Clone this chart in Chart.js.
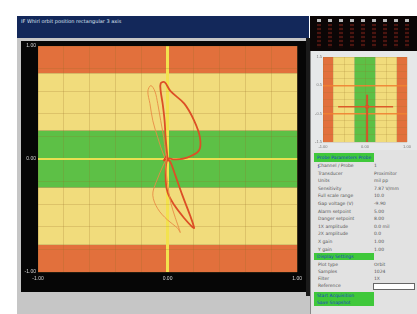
<!DOCTYPE html>
<html>
<head>
<meta charset="utf-8">
<script src="https://cdn.jsdelivr.net/npm/chart.js@4.4.1/dist/chart.umd.min.js"></script>
<style>
  body { margin: 0; width: 417px; height: 314px; background: #fff; position: relative; overflow: hidden; font-family: "DejaVu Sans", sans-serif; }
  .abs { position: absolute; }
  #title { left: 17px; top: 16px; width: 292px; height: 22px; background: #13285a; color: #dfe5f2; font-size: 5px; line-height: 10px; padding-left: 4px; box-sizing: border-box; }
  #mainPanel { left: 17px; top: 38px; width: 293px; height: 276px; background: #c6c6c6; }
  #mainBox { left: 21px; top: 41px; width: 285px; height: 251px; background: #060606; }
  #sep { left: 306px; top: 38px; width: 4px; height: 258px; background: #1a1a1a; }
  #leds { left: 310px; top: 16px; width: 107px; height: 35px; background: #0b0606; }
  #smallPanel { left: 310px; top: 51px; width: 107px; height: 99px; background: #e6e8e9; border-left: 1px solid #888; box-sizing: border-box; }
  #textPanel { left: 310px; top: 150px; width: 107px; height: 164px; background: #e2e2e2; border-left: 1px solid #888; box-sizing: border-box; }
  .row { position: absolute; font-size: 4.5px; color: #555; white-space: nowrap; }
  .bar { position: absolute; left: 3px; width: 60px; background: #3fc83a; color: #1d3fc4; font-size: 4.5px; padding-left: 3px; box-sizing: border-box; }
  .led { position: absolute; width: 4px; }
</style>
</head>
<body>
<div id="title" class="abs">IF Whirl orbit position rectangular 3 axis</div>
<div id="mainPanel" class="abs"></div>
<div id="mainBox" class="abs"><canvas id="orbitChart" width="285" height="251"></canvas></div>
<div id="sep" class="abs"></div>
<div id="leds" class="abs"></div>
<div id="smallPanel" class="abs"><canvas id="gapChart" width="105" height="99"></canvas></div>
<div id="textPanel" class="abs"></div>
<script>
// --- chart values ---
const orbitLabelTicks = [-1, 0, 1];
const zoneLimits = [-1, -0.76, -0.25, 0.25, 0.76, 1];

// thick red orbit (upper loop, then lower loop)
const orbitAX = [0, -0.015, -0.023, -0.038, -0.053, -0.053, -0.023, 0.023, 0.129, 0.205, 0.25, 0.242, 0.152, 0.053, 0,
                 -0.015, 0, 0.053, 0.129, 0.19, 0.205, 0.174, 0.114, 0.06, 0.023, 0];
const orbitAY = [0, 0.19, 0.34, 0.49, 0.60, 0.67, 0.68, 0.60, 0.49, 0.34, 0.19, 0.075, 0.013, -0.004, 0,
                 -0.145, -0.295, -0.41, -0.524, -0.6, -0.61, -0.5, -0.32, -0.145, -0.03, 0];

// thin light orbit
const orbitBX = [-0.008, -0.023, -0.076, -0.114, -0.136, -0.152, -0.129, -0.098, -0.076, -0.053, -0.03, -0.015, -0.008,
                 -0.023, -0.09, -0.114, -0.076, 0, 0.076, 0.098, 0.06, 0.023, 0, -0.015, -0.008];
const orbitBY = [0, 0.013, 0.19, 0.34, 0.49, 0.60, 0.65, 0.60, 0.49, 0.34, 0.19, 0.05, 0,
                 -0.03, -0.21, -0.32, -0.44, -0.54, -0.61, -0.65, -0.52, -0.38, -0.21, -0.06, 0];

const centerX = [-0.01];
const centerY = [0];

// small gap chart
const gapLabelTicksX = [-1, 0, 1];
const gapLabelTicksY = [-1.5, -0.5, 0.5, 1.5];
const gapCrossX = [-0.64, 0.67];
const gapCrossY = [-0.26, -0.26];
const gapStemX = [0.05, 0.05];
const gapStemY = [-1.5, 0.17];

// side panel text
const panelRows = [
  ['Channel / Probe', '1'], ['Transducer', 'Proximitor'], ['Units', 'mil pp'], ['Sensitivity', '7.87 V/mm'],
  ['Full scale range', '10.0'], ['Gap voltage (V)', '-9.90'], ['Alarm setpoint', '5.00'], ['Danger setpoint', '8.00'],
  ['  1X amplitude', '0.0 mil'], ['  2X amplitude', '0.0'], ['X gain', '1.00'], ['Y gain', '1.00']
];
const panelRows2 = [['Plot type', 'Orbit'], ['Samples', '1024'], ['Filter', '1X'], ['Reference', '']];

const pts = (xs, ys) => xs.map((x, i) => ({ x: x, y: ys[i] }));
const near = (v, list) => list.some(t => Math.abs(v - t) < 1e-6);

const zonePlugin = {
  id: 'zones',
  beforeDraw(chart, args, opts) {
    const { ctx, chartArea: a, scales } = chart;
    const sc = scales[opts.axis];
    for (let i = 0; i < opts.limits.length - 1; i++) {
      const p1 = sc.getPixelForValue(opts.limits[i]);
      const p2 = sc.getPixelForValue(opts.limits[i + 1]);
      ctx.fillStyle = opts.colors[i];
      if (opts.axis === 'y') ctx.fillRect(a.left, Math.min(p1, p2), a.width, Math.abs(p2 - p1));
      else ctx.fillRect(Math.min(p1, p2), a.top, Math.abs(p2 - p1), a.height);
    }
  }
};

const zoneColors = ['#e2703c', '#f1dc7c', '#5dc046', '#f1dc7c', '#e2703c'];

// 1. main orbit chart
new Chart(document.getElementById('orbitChart'), {
  type: 'scatter',
  plugins: [zonePlugin],
  data: {
    datasets: [
      { data: pts(orbitBX, orbitBY), showLine: true, borderColor: 'rgba(232,140,70,0.9)', borderWidth: 1, pointRadius: 0, tension: 0.35 },
      { data: pts(orbitAX, orbitAY), showLine: true, borderColor: '#dc4f26', borderWidth: 1.8, pointRadius: 0, tension: 0.35 },
      { data: pts(centerX, centerY), pointStyle: 'triangle', pointRadius: 3.5, backgroundColor: '#e0401e', borderColor: '#e0401e' }
    ]
  },
  options: {
    responsive: false, animation: false, devicePixelRatio: 1,
    layout: { padding: { top: 4, right: 4 } },
    plugins: {
      legend: { display: false }, tooltip: { enabled: false },
      zones: { axis: 'y', limits: zoneLimits, colors: zoneColors }
    },
    scales: {
      x: {
        min: -1, max: 1,
        afterFit: s => { s.height = 20; },
        border: { display: false },
        grid: {
          drawTicks: false,
          color: c => Math.abs(c.tick.value) < 1e-6 ? '#f3e24e' : 'rgba(150,110,40,0.22)',
          lineWidth: c => Math.abs(c.tick.value) < 1e-6 ? 3 : 1
        },
        ticks: { stepSize: 0.2, autoSkip: false, maxRotation: 0, padding: 4, color: '#d6d6d6', font: { size: 5 },
                 callback: v => near(v, orbitLabelTicks) ? v.toFixed(2) : '' }
      },
      y: {
        min: -1, max: 1,
        afterFit: s => { s.width = 17; },
        border: { display: false },
        grid: {
          drawTicks: false,
          color: c => Math.abs(c.tick.value) < 1e-6 ? '#e9df52' : 'rgba(150,110,40,0.22)',
          lineWidth: c => Math.abs(c.tick.value) < 1e-6 ? 2 : 1
        },
        ticks: { stepSize: 0.2, autoSkip: false, padding: 2, color: '#d6d6d6', font: { size: 5 },
                 callback: v => near(v, orbitLabelTicks) ? v.toFixed(2) : '' }
      }
    }
  }
});

// 2. small gap chart
new Chart(document.getElementById('gapChart'), {
  type: 'scatter',
  plugins: [zonePlugin],
  data: {
    datasets: [
      { data: pts(gapCrossX, gapCrossY), showLine: true, borderColor: '#dc5a2a', borderWidth: 1.5, pointRadius: 0 },
      { data: pts(gapStemX, gapStemY), showLine: true, borderColor: '#d2552a', borderWidth: 2, pointRadius: 0 },
      { data: pts([gapStemX[0]], [gapCrossY[0]]), pointRadius: 2, backgroundColor: '#e0401e', borderWidth: 0 }
    ]
  },
  options: {
    responsive: false, animation: false, devicePixelRatio: 1,
    layout: { padding: { top: 6, right: 9 } },
    plugins: {
      legend: { display: false }, tooltip: { enabled: false },
      zones: { axis: 'x', limits: zoneLimits, colors: zoneColors }
    },
    scales: {
      x: {
        min: -1, max: 1,
        afterFit: s => { s.height = 8; },
        border: { display: false },
        grid: { drawTicks: false, color: 'rgba(150,110,40,0.18)' },
        ticks: { stepSize: 0.25, autoSkip: false, maxRotation: 0, padding: 2, color: '#777', font: { size: 4 },
                 callback: v => near(v, gapLabelTicksX) ? v.toFixed(2) : '' }
      },
      y: {
        min: -1.5, max: 1.5,
        afterFit: s => { s.width = 12; },
        border: { display: false },
        grid: {
          drawTicks: false,
          color: c => near(c.tick.value, [-0.5, 0.5]) ? 'rgba(240,130,50,0.9)' : 'rgba(150,110,40,0.18)',
          lineWidth: c => near(c.tick.value, [-0.5, 0.5]) ? 1.5 : 1
        },
        ticks: { stepSize: 0.25, autoSkip: false, padding: 1, color: '#777', font: { size: 4 },
                 callback: v => near(v, gapLabelTicksY) ? v.toFixed(1) : '' }
      }
    }
  }
});

// 3. LED strip
const leds = document.getElementById('leds');
for (let i = 0; i < 9; i++) {
  const x = 7 + i * 11;
  leds.innerHTML += `<div class="led" style="left:${x}px;top:3px;height:3px;background:#bbb"></div>` +
                    `<div class="led" style="left:${x}px;top:8px;height:24px;background:repeating-linear-gradient(#4a1510 0 2px,#140606 2px 4px)"></div>`;
}

// 4. text panel
const tp = document.getElementById('textPanel');
let html = '<div class="bar" style="top:3px;height:9px;line-height:9px">Probe Parameters  Probe 1</div>';
panelRows.forEach((r, i) => {
  const y = 13 + i * 7.6;
  html += `<div class="row" style="left:7px;top:${y}px">${r[0]}</div><div class="row" style="left:63px;top:${y}px">${r[1]}</div>`;
});
html += '<div class="bar" style="top:103px;height:7px;line-height:7px">Display Settings</div>';
panelRows2.forEach((r, i) => {
  const y = 112 + i * 7;
  html += `<div class="row" style="left:7px;top:${y}px">${r[0]}</div><div class="row" style="left:63px;top:${y}px">${r[1]}</div>`;
});
html += '<div style="position:absolute;left:62px;top:133px;width:40px;height:5px;background:#fff;border:1px solid #666"></div>';
html += '<div class="bar" style="top:142px;height:14px;line-height:7px">Start Acquisition<br>Save Snapshot</div>';
tp.innerHTML = html;
</script>
</body>
</html>
